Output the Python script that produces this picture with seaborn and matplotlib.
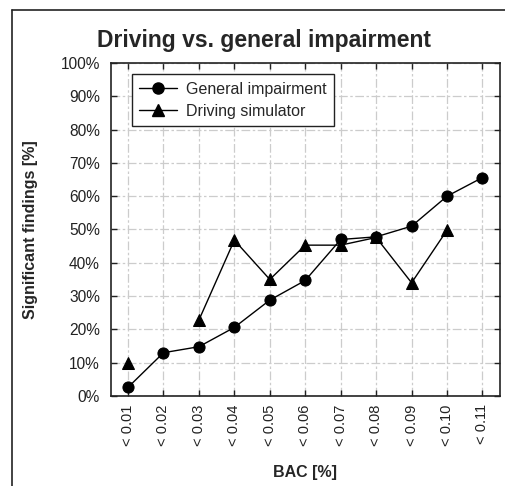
import numpy as np
import pandas as pd
import matplotlib
matplotlib.use("Agg")
import matplotlib.pyplot as plt
from matplotlib.lines import Line2D
import seaborn as sns

# BAC classes and share of significant findings (%)
bac_labels = ["< 0.01", "< 0.02", "< 0.03", "< 0.04", "< 0.05", "< 0.06",
              "< 0.07", "< 0.08", "< 0.09", "< 0.10", "< 0.11"]
general_impairment = [2.6, 13.0, 14.8, 20.6, 28.8, 34.7, 47.0, 47.8, 51.0, 60.0, 65.6]
driving_simulator = [10.0, np.nan, 22.8, 46.8, 35.0, 45.3, 45.3, 47.6, 34.0, 49.8, np.nan]
y_ticks = list(range(0, 101, 10))

sns.set_theme(style="white")
plt.rcParams["font.family"] = ["Liberation Sans", "DejaVu Sans"]

fig = plt.figure(figsize=(5.05, 4.86), dpi=100)
ax = fig.add_axes([111 / 505, 1 - 396 / 486, (499.5 - 111) / 505, (396 - 63) / 486])

pos = np.arange(len(bac_labels))
df = pd.DataFrame({"pos": pos, "gi": general_impairment, "ds": driving_simulator})

sns.lineplot(data=df, x="pos", y="gi", ax=ax, color="black", lw=1.0,
             marker="o", markersize=8, markeredgecolor="black", legend=False)

# the simulator series has gaps, so draw each unbroken run on its own
runs = (df["ds"].isna()).cumsum()
for _, seg in df[df["ds"].notna()].groupby(runs[df["ds"].notna()]):
    sns.lineplot(data=seg, x="pos", y="ds", ax=ax, color="black", lw=1.0,
                 marker="^", markersize=8, markeredgecolor="black", legend=False)

ax.set_xlim(-0.48, len(bac_labels) - 1 + 0.48)
ax.set_ylim(0, 100)
ax.set_xticks(pos)
ax.set_xticklabels(bac_labels, rotation=90, fontsize=10.5, color="#222222")
ax.set_yticks(y_ticks)
ax.set_yticklabels([f"{t}%" for t in y_ticks], fontsize=11.2, color="#222222")

grid_kw = dict(color="#cccccc", lw=0.9, linestyle=(0, (7, 2, 2, 2)))
ax.grid(True, axis="both", **grid_kw)
ax.set_axisbelow(True)

ax.tick_params(axis="both", which="both", direction="in", length=4, width=1,
               color="#222222", top=True, right=True, bottom=True, left=True,
               labeltop=False, labelright=False)
ax.tick_params(axis="y", pad=8)
ax.tick_params(axis="x", pad=6)
for s in ax.spines.values():
    s.set_visible(True)
    s.set_color("#222222")
    s.set_linewidth(1.2)

ax.set_xlabel("BAC [%]", fontsize=11.5, fontweight="bold", labelpad=14)
ax.set_ylabel("Significant findings [%]", fontsize=11.5, fontweight="bold", labelpad=16)
fig.text(264 / 505, 1 - 41 / 486, "Driving vs. general impairment", ha="center",
         va="center", fontsize=16.5, fontweight="bold")

handles = [
    Line2D([], [], color="black", lw=1.0, marker="o", markersize=8),
    Line2D([], [], color="black", lw=1.0, marker="^", markersize=8),
]
leg = ax.legend(handles, ["General impairment", "Driving simulator"],
                loc="upper left", bbox_to_anchor=(0.053, 0.966), fontsize=11.5,
                frameon=True, fancybox=False, framealpha=1, edgecolor="#222222",
                borderpad=0.45, handlelength=2.4, labelspacing=0.45,
                handletextpad=0.55, borderaxespad=0)
leg.get_frame().set_linewidth(1.0)

# outer frame lines of the figure
fig.add_artist(Line2D([12 / 505, 12 / 505], [0, 1 - 10 / 486],
                      transform=fig.transFigure, color="#222222", lw=1.2))
fig.add_artist(Line2D([12 / 505, 1], [1 - 10 / 486, 1 - 10 / 486],
                      transform=fig.transFigure, color="#222222", lw=1.2))

fig.savefig("out.png", dpi=100)
